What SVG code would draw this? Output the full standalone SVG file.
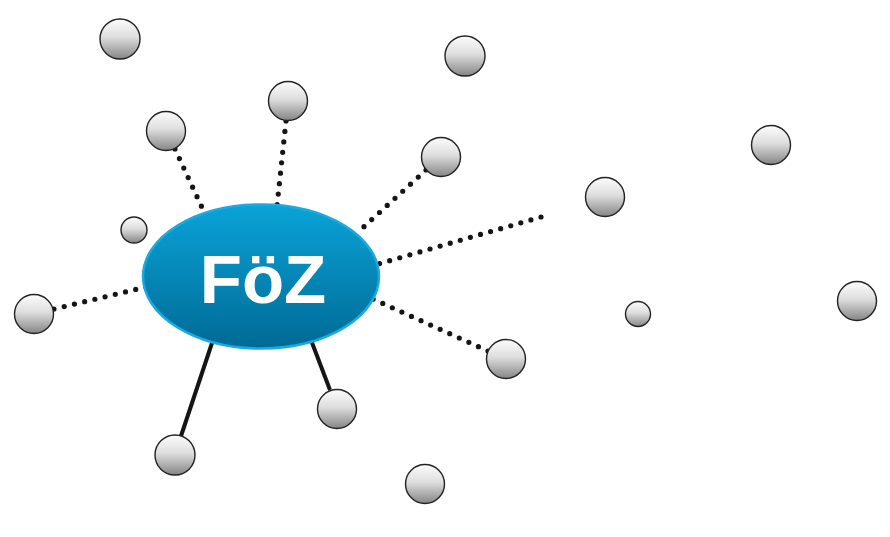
<svg xmlns="http://www.w3.org/2000/svg" width="890" height="537" viewBox="0 0 890 537">
  <defs>
    <linearGradient id="ball" x1="0" y1="0" x2="0" y2="1">
      <stop offset="0" stop-color="#fcfcfc"/>
      <stop offset="0.45" stop-color="#dedede"/>
      <stop offset="1" stop-color="#858585"/>
    </linearGradient>
    <linearGradient id="hub" x1="0" y1="0" x2="0" y2="1">
      <stop offset="0" stop-color="#0aa3d8"/>
      <stop offset="1" stop-color="#006a95"/>
    </linearGradient>
  </defs>
  <style>
    .ball { fill: url(#ball); stroke: #222222; stroke-width: 1.4; }
    .dot { fill: none; stroke: #151515; stroke-width: 5.2; stroke-linecap: round; stroke-dasharray: 0 10.5; }
    .solid { fill: none; stroke: #151515; stroke-width: 4; }
    .label { font-family: "Liberation Sans", Arial, sans-serif; font-weight: bold; font-size: 69px; fill: #ffffff; }
  </style>
  <rect width="890" height="537" fill="#ffffff"/>
  <g id="connectors">
    <line class="dot" x1="175" y1="149" x2="205" y2="214"/>
    <line class="dot" x1="286" y1="121" x2="277" y2="206"/>
    <line class="dot" x1="426" y1="170" x2="357" y2="233"/>
    <line class="dot" x1="541" y1="217" x2="378" y2="264"/>
    <line class="dot" x1="488" y1="351" x2="373" y2="299"/>
    <line class="dot" x1="54" y1="309" x2="146" y2="287"/>
    <line class="solid" x1="181" y1="436" x2="213" y2="340"/>
    <line class="solid" x1="330" y1="390" x2="311" y2="340"/>
  </g>
  <g id="hub-foz">
    <ellipse cx="261" cy="276.5" rx="118" ry="72" fill="url(#hub)" stroke="#1ca9de" stroke-width="2.5"/>
    <text class="label" x="263" y="302.5" text-anchor="middle">FöZ</text>
  </g>
  <g id="n1"><circle class="ball" cx="120" cy="39" r="20"/></g>
  <g id="n2"><circle class="ball" cx="465" cy="56" r="20"/></g>
  <g id="n3"><circle class="ball" cx="288" cy="101" r="19.5"/></g>
  <g id="n4"><circle class="ball" cx="166" cy="131" r="19.5"/></g>
  <g id="n5"><circle class="ball" cx="441" cy="157" r="19.5"/></g>
  <g id="n6"><circle class="ball" cx="771" cy="145" r="19.5"/></g>
  <g id="n7"><circle class="ball" cx="605" cy="197" r="19.5"/></g>
  <g id="n8"><circle class="ball" cx="134" cy="230" r="13"/></g>
  <g id="n9"><circle class="ball" cx="34" cy="314" r="19.5"/></g>
  <g id="n10"><circle class="ball" cx="857" cy="301" r="19.5"/></g>
  <g id="n11"><circle class="ball" cx="638" cy="314" r="12.5"/></g>
  <g id="n12"><circle class="ball" cx="506" cy="359" r="19.5"/></g>
  <g id="n13"><circle class="ball" cx="337" cy="409" r="19.5"/></g>
  <g id="n14"><circle class="ball" cx="175" cy="455" r="20"/></g>
  <g id="n15"><circle class="ball" cx="425" cy="484" r="19.5"/></g>
</svg>
